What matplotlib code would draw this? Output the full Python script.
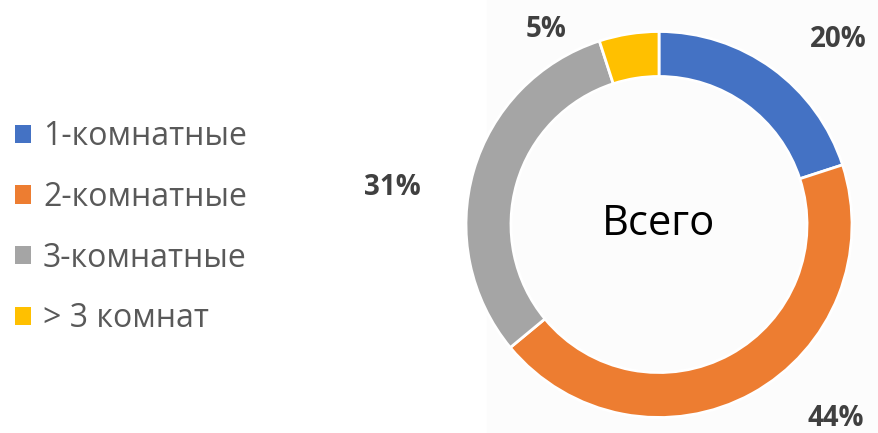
import matplotlib.pyplot as plt
from matplotlib.patches import Patch

# данные
categories = ["1-комнатные", "2-комнатные", "3-комнатные", "> 3 комнат"]
shares = [20, 44, 31, 5]
colors = ["#4472C4", "#ED7D31", "#A5A5A5", "#FFC000"]

# положения подписей (в единицах радиуса)
label_pos = [(0.93, 0.956), (0.917, -1.003), (-1.383, 0.194), (-0.585, 1.008)]

plt.rcParams["font.family"] = ["Open Sans", "DejaVu Sans"]

fig = plt.figure(figsize=(8.79, 4.33), dpi=100)
ax = fig.add_axes([0, 0, 1, 1])

# почти белый фон области диаграммы
ax.axvspan(-0.891, 2, color="#fcfcfc", zorder=0)

wedges, _ = ax.pie(shares, colors=colors, startangle=90, counterclock=False,
                   radius=1.0, wedgeprops=dict(width=0.233, edgecolor="white", linewidth=2),
                   frame=True)
ax.set_xlim(-659 / 193, 220 / 193)
ax.set_ylim(-208.5 / 193, 224.5 / 193)
ax.set_aspect("auto")
ax.axis("off")

for v, (x, y) in zip(shares, label_pos):
    ax.text(x, y, f"{v}%", ha="center", va="center", fontsize=20,
            fontweight="bold", color="#404040")

ax.text(0, 0, "Всего", ha="center", va="center", fontsize=30, color="black")

handles = [Patch(facecolor=c) for c in colors]
leg = fig.legend(handles, categories, loc="center left", bbox_to_anchor=(15 / 879, 0.474),
                 frameon=False, fontsize=23, handlelength=0.5, handleheight=0.5,
                 handletextpad=0.375, labelspacing=0.87, borderpad=0, borderaxespad=0,
                 labelcolor="#595959")

fig.savefig("out.png", dpi=100)
